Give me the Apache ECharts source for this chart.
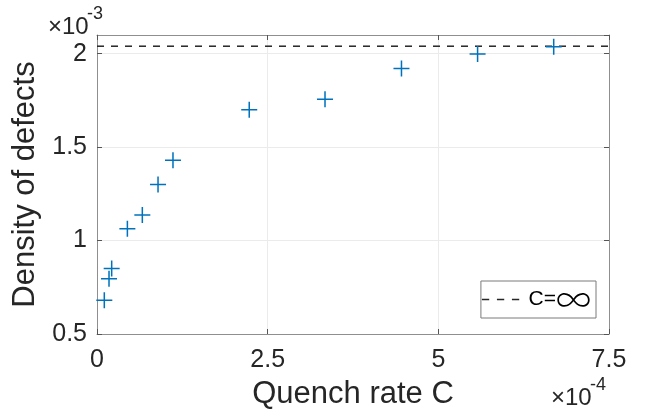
<!DOCTYPE html>
<html><head><meta charset="utf-8">
<script src="https://cdn.jsdelivr.net/npm/echarts@6/dist/echarts.min.js"></script>
<style>html,body{margin:0;padding:0;background:#fff}#c{width:647px;height:416px}</style>
</head><body><div id="c"></div>
<script>
// Quench rate C, in units of 1e-4
const quenchRate = [0.107, 0.176, 0.215, 0.445, 0.664, 0.894, 1.113, 2.23, 3.34, 4.46, 5.575, 6.69];
// Density of defects, in units of 1e-3
const defectDensity = [0.680, 0.796, 0.851, 1.063, 1.137, 1.300, 1.430, 1.700, 1.756, 1.921, 1.998, 2.037];
// Density for C = infinity (units of 1e-3)
const infiniteRateDensity = 2.04;
const xTicks = [0, 2.5, 5, 7.5];
const yTicks = [0.5, 1, 1.5, 2];
const xRange = [0, 7.5];
const yRange = [0.5, 2.1];
const legendLabel = 'C=\u221E';
const xTitle = 'Quench rate C';
const yTitle = 'Density of defects';
const xExp = '-4';
const yExp = '-3';

const FONT = '"Liberation Sans", Arial, Helvetica, sans-serif';
const TXT = '#262626';
const AX = '#8f8f8f';

const scatterData = quenchRate.map((x, i) => [x, defectDensity[i]]);
const infData = [[xRange[0], infiniteRateDensity], [xRange[1], infiniteRateDensity]];

const plus = 'path://M-0.95,-10 H0.95 V-0.95 H10 V0.95 H0.95 V10 H-0.95 V0.95 H-10 V-0.95 H-0.95 Z';
const dashIcon = 'path://M0,0H7.3V1.6H0Z M15,0H22.3V1.6H15Z M30,0H37.3V1.6H30Z';

const chart = echarts.init(document.getElementById('c'), null, {renderer: 'canvas'});
const fmtX = v => xTicks.some(t => Math.abs(t - v) < 1e-9) ? String(v) : '';
const fmtY = v => yTicks.some(t => Math.abs(t - v) < 1e-9) ? String(v) : '';

chart.setOption({
  animation: false,
  backgroundColor: '#fff',
  textStyle: {fontFamily: FONT},
  grid: {left: 97, right: 38, top: 35, bottom: 82, containLabel: false},
  xAxis: [{
    type: 'value', min: xRange[0], max: xRange[1], interval: 2.5,
    name: xTitle, nameLocation: 'middle', nameGap: 45,
    nameTextStyle: {fontSize: 31, color: TXT, fontFamily: FONT},
    axisLine: {show: true, onZero: false, lineStyle: {color: AX, width: 1}},
    axisTick: {show: true, inside: true, length: 5, lineStyle: {color: '#555'}},
    axisLabel: {fontSize: 25, color: TXT, margin: 14, formatter: fmtX, fontFamily: FONT},
    splitLine: {show: true, lineStyle: {color: '#ebebeb', width: 1}}
  }, {
    type: 'value', position: 'top', min: xRange[0], max: xRange[1], interval: 2.5,
    axisLine: {show: true, onZero: false, lineStyle: {color: AX, width: 1}},
    axisTick: {show: true, inside: true, length: 5, lineStyle: {color: '#555'}},
    axisLabel: {show: false}, splitLine: {show: false}
  }],
  yAxis: [{
    type: 'value', min: yRange[0], max: yRange[1], interval: 0.5,
    name: yTitle, nameLocation: 'middle', nameGap: 45, nameRotate: 90,
    nameTextStyle: {fontSize: 31, color: TXT, fontFamily: FONT},
    axisLine: {show: true, onZero: false, lineStyle: {color: AX, width: 1}},
    axisTick: {show: true, inside: true, length: 5, lineStyle: {color: '#555'}},
    axisLabel: {fontSize: 25, color: TXT, margin: 10, formatter: fmtY, fontFamily: FONT, showMaxLabel: false},
    splitLine: {show: true, lineStyle: {color: '#ebebeb', width: 1}}
  }, {
    type: 'value', position: 'right', min: yRange[0], max: yRange[1], interval: 0.5,
    axisLine: {show: true, onZero: false, lineStyle: {color: AX, width: 1}},
    axisTick: {show: true, inside: true, length: 5, lineStyle: {color: '#555'}},
    axisLabel: {show: false}, splitLine: {show: false}
  }],
  legend: {
    data: [{name: legendLabel, icon: dashIcon}],
    right: 51, top: 281,
    orient: 'vertical',
    padding: [1, 5, 1, 1],
    itemWidth: 38, itemHeight: 1.6, itemGap: 0,
    itemStyle: {color: '#262626', borderWidth: 0},
    borderColor: '#7a7a7a', borderWidth: 1, backgroundColor: '#fff',
    formatter: () => 'C={b|\u221E}',
    textStyle: {
      fontSize: 21, color: '#000', fontFamily: FONT, padding: [0, 0, 0, 4],
      rich: {
        b: {fontSize: 35, fontWeight: 300, color: '#000', fontFamily: '"Noto Sans CJK JP"', verticalAlign: 'middle'}
      }
    },
    selectedMode: false
  },
  graphic: [
    {type: 'text', left: 48, top: 15, style: {text: '\u00D710', fontSize: 24, fill: TXT, fontFamily: FONT}},
    {type: 'text', left: 87, top: 5, style: {text: yExp, fontSize: 18, fill: TXT, fontFamily: FONT}},
    {type: 'text', left: 551, top: 386, style: {text: '\u00D710', fontSize: 24, fill: TXT, fontFamily: FONT}},
    {type: 'text', left: 590, top: 376, style: {text: xExp, fontSize: 18, fill: TXT, fontFamily: FONT}}
  ],
  series: [{
    name: 'data', type: 'scatter', data: scatterData,
    symbol: plus, symbolSize: 16,
    itemStyle: {color: '#0072BD', opacity: 1},
    xAxisIndex: 0, yAxisIndex: 0, z: 3
  }, {
    name: legendLabel, type: 'line', data: infData,
    symbol: 'none', showSymbol: false,
    lineStyle: {color: '#262626', width: 1.5, type: [7, 7]},
    itemStyle: {color: '#262626'},
    xAxisIndex: 0, yAxisIndex: 0, z: 2
  }]
});
</script>
</body></html>
